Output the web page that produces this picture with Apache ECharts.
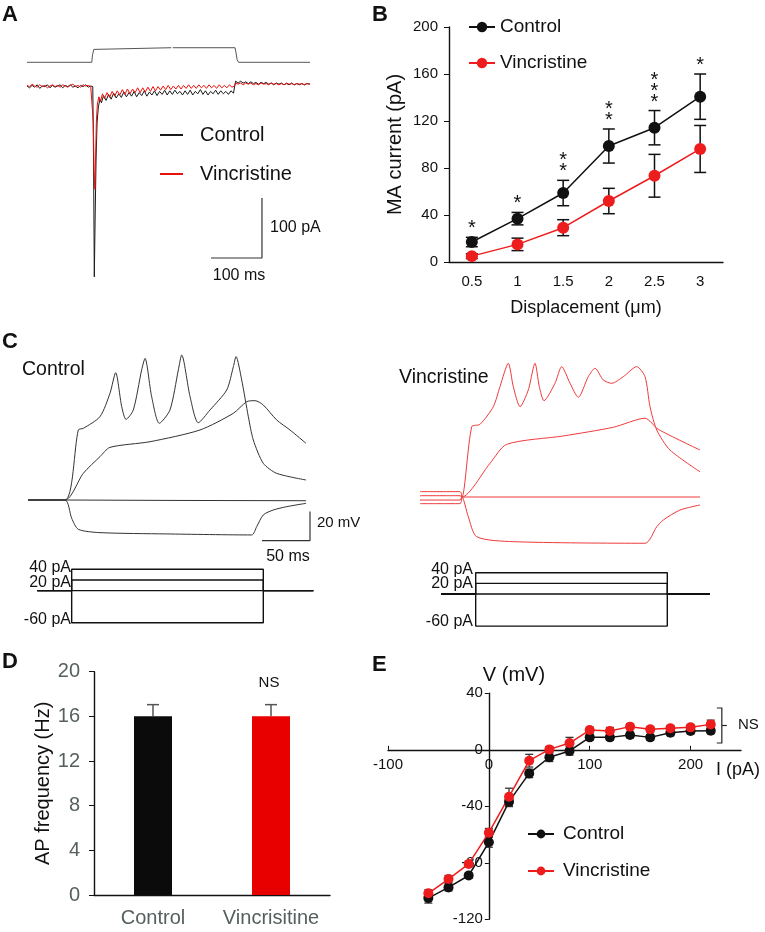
<!DOCTYPE html>
<html><head><meta charset="utf-8">
<script src="https://cdn.jsdelivr.net/npm/echarts@6.0.0/dist/echarts.min.js"></script>
<style>html,body{margin:0;padding:0;background:#fff}#c{width:765px;height:932px}</style>
</head><body><div id="c"></div>
<script>
// ---------- Panel A: MA current traces (t in ms, current in pA) ----------
const stimA = [[0,39.5],[127,39.5],[128.5,52],[131,61],[134,63.8],[283,63.8],[284,'-'],[286,63.8],[408,63.8],[410,55],[412,44],[415,39.5],[555,39.5]];
const ctrlCurrentA = [[0,0],[5,-3],[10,1],[15,-2],[20,2],[25,-4],[30,0],[35,-1],[40,2],[45,-3],[50,1],[55,-2],[60,0],[65,2],[70,-3],[75,1],[80,-1],[85,2],[90,-2],[95,0],[100,-3],[105,1],[110,-1],[115,2],[120,-2],[125,0],[129,-1],
[130.5,-120],[132,-318],[133.8,-210],[135.5,-120],[137.5,-60],[140,-35],[143,-22],[146,-28],[150,-16],[155,-24],[160,-14],[165,-22],[170,-12],[175,-20],[180,-13],[185,-19],[190,-10],[195,-18],[200,-11],[205,-17],[210,-9],[215,-18],[220,-11],[225,-16],[230,-8],[235,-17],[240,-10],[245,-15],[250,-8],[255,-16],[260,-9],[265,-14],[270,-7],[275,-15],[280,-8],[285,-14],[290,-7],[295,-13],[300,-9],[305,-15],[310,-8],[315,-14],[320,-7],[325,-15],[330,-9],[335,-13],[340,-6],[345,-14],[350,-8],[355,-15],[360,-9],[365,-13],[370,-7],[375,-14],[380,-8],[385,-13],[390,-9],[395,-14],[400,-8],[405,-12],[407.5,-10],
[409,8],[414,5],[419,8],[424,5],[429,7],[434,4],[439,7],[444,4],[449,6],[454,3],[459,6],[464,4],[469,6],[474,3],[479,5],[484,2],[489,5],[494,3],[499,5],[504,2],[509,4],[514,2],[519,5],[524,2],[529,4],[534,2],[539,4],[544,2],[549,4],[555,3]];
const vincCurrentA = [[0,1],[5,-1],[10,3],[15,0],[20,-2],[25,2],[30,-1],[35,1],[40,-3],[45,0],[50,2],[55,-1],[60,1],[65,-2],[70,2],[75,0],[80,-2],[85,1],[90,3],[95,-1],[100,1],[105,-2],[110,2],[115,0],[120,1],[125,-1],[128.5,0],
[130,-60],[131.5,-140],[133,-172],[134.5,-120],[136,-60],[138,-30],[141,-18],[144,-26],[148,-13],[152,-21],[157,-11],[162,-19],[167,-9],[172,-17],[177,-8],[182,-15],[187,-6],[192,-14],[197,-5],[202,-13],[207,-5],[212,-11],[217,-3],[222,-11],[227,-3],[232,-10],[237,-2],[242,-9],[247,-1],[252,-8],[257,-1],[262,-7],[267,0],[272,-6],[277,1],[282,-6],[287,0],[292,-5],[297,1],[302,-5],[307,1],[312,-4],[317,2],[322,-4],[327,1],[332,-4],[337,2],[342,-3],[347,1],[352,-4],[357,2],[362,-3],[367,1],[372,-4],[377,2],[382,-3],[387,1],[392,-3],[397,2],[402,-2],[407,0],
[409.5,5],[414,3],[419,5],[424,2],[429,5],[434,3],[439,5],[444,2],[449,4],[454,2],[459,5],[464,3],[469,4],[474,2],[479,5],[484,3],[489,4],[494,2],[499,4],[504,2],[509,5],[514,3],[519,4],[524,2],[529,4],[534,3],[539,4],[544,2],[549,4],[555,3]];
const scaleBarA = [[360.8,-286.7],[460.8,-286.7],[460.8,-186.7]]; // 100 ms x 100 pA

// ---------- Panel B: MA current vs displacement ----------
const bCategories = ['0.5','1','1.5','2','2.5','3'];
const bControl = [17, 36.9, 58.7, 98.7, 114.3, 140.7];
const bControlErr = [4, 5.3, 10.8, 14.5, 14.6, 19.3];
const bVinc = [5, 15, 29.2, 51.9, 73.4, 96.2];
const bVincErr = [2, 5.3, 6.8, 10.8, 18.2, 20];
const bSig = ['*','*','**','**','***','*'];

// ---------- Panel C: voltage traces (t in ms, V in mV relative to rest) ----------
const ctrlSpike = [[0,0],[38.5,0],[52.4,48.3],[57.6,49.4],[75,57.5],[85.4,73.6],[91.3,87.8],[97.6,64.4],[102.1,55.6],[109.7,62.1],[118.4,89.7],[121.9,97.7],[128.8,71.3],[136.8,52.9],[147.9,62.1],[156.6,89.7],[160.1,100],[168.8,71.3],[177.4,53.3],[189.6,62.1],[207,75.9],[213.9,91.9],[216.7,98.9],[222.6,82.8],[229.5,57.5],[234.7,41.4],[245.1,25.3],[259,18.4],[289.6,13.8]];
const ctrl20 = [[0,0],[38.5,0],[57.6,18.4],[75,29.9],[85.4,36.3],[127.1,40.2],[179.2,48.3],[213.9,59.8],[227.8,67.8],[236.5,68.5],[245.1,65.5],[259,55.2],[272.9,48.3],[289.6,39.1]];
const ctrl0 = [[0,0],[38.5,0],[150,-0.3],[289.6,-0.5]];
const ctrlNeg = [[0,0],[38.5,0],[45.5,-12.6],[52.4,-20.2],[75,-22.5],[144.5,-23.4],[233,-24.1],[238.2,-18.4],[245.1,-10.3],[255.5,-6.9],[269.5,-4.6],[289.6,-2.3]];
const vincSpike = [[0,3.7],[41.7,3.7],[43.8,0],[53.9,48.5],[62.5,50.1],[76.4,62.3],[83.3,76.1],[92,92.2],[97.2,76.1],[104.2,62.3],[112.8,73.8],[119.8,92.2],[124.3,76.1],[129.2,66.4],[140.6,78.4],[147.6,89.9],[156.3,78.4],[164.9,68.8],[175.3,83],[182.3,88.8],[190.9,80.7],[199.7,78.4],[211.8,83],[225.7,89.9],[234.4,83],[239.6,62.3],[246.6,46.2],[260.4,32.4],[291.7,17.4]];
const vinc20 = [[0,0.9],[41.7,0.9],[43.8,0],[72.9,23.2],[90.3,36.3],[149.3,42.1],[201.4,48.1],[234.4,54.3],[248.2,46.7],[291.7,32.4]];
const vinc0 = [[0,-2.1],[41.7,-2.1],[43.8,0],[291.7,0]];
const vincNeg = [[0,-4.6],[41.7,-4.6],[43.8,0],[50.3,-13.6],[59.1,-27.4],[97.2,-30.8],[234.4,-31.9],[246.6,-20.5],[253.4,-15.9],[270.8,-9],[291.7,-5.5]];
const scaleBarC = [[243.75,-28],[293.75,-28],[293.75,-8]]; // 50 ms x 20 mV
const protoLevels = [40, 20, 0, -60];           // pA
const protoLabels = ['40 pA', '20 pA', '-60 pA'];
const protoCtrlT = [9.7, 45.5, 245.1, 297.2];   // start, on, off, end (ms)
const protoVincT = [21.9, 58, 257.6, 310.1];

// ---------- Panel D: AP frequency ----------
const dCategories = ['Control', 'Vincrisitine'];
const dValues = [16, 16];
const dErr = [1.05, 1.05];

// ---------- Panel E: I-V relation ----------
const eCurrent = [-60,-40,-20,0,20,40,60,80,100,120,140,160,180,200,220];
const eControl = [-105,-97.4,-89,-65.5,-36.7,-16.7,-5.3,-0.8,8.8,8.8,10.5,8.8,12.1,13.3,13.5];
const eControlErr = [3.5,2.5,2,3.5,3.5,3,3,3,2,2,2,2,2,2,2];
const eVinc = [-101.6,-91.5,-80.8,-58.7,-33.2,-7.7,0.3,4.8,14,13.3,16.4,14.5,15.2,15.9,18];
const eVincErr = [2.5,2.5,2,3,6,4.5,2,4,2,2.5,2,2,2,2,3];
const eXTicks = ['-100','0','100','200'];
const eBracket = [[231, 4.8, 29.6]];

// ---------- build ----------
const FF = '"Liberation Sans", Arial, sans-serif';
const BLACK = '#111111', RED = '#ee1d1d', TRACE_RED = '#f03a3a';
const chart = echarts.init(document.getElementById('c'), null, {renderer:'canvas'});

// E grid geometry (x: -100..250, y: -120..40); axes cross at the origin
const EG = {left:388, top:693.3, width:353, height:226};
const eXOffset = -(EG.height * (0 - (-120)) / 160);   // move x axis up to V = 0
const eYOffset = -(EG.width * (0 - (-100)) / 350);    // move y axis right to I = 0

function hiddenX(gi, min, max){ return {type:'value', gridIndex:gi, min, max, show:false}; }
function hiddenY(gi, min, max){ return {type:'value', gridIndex:gi, min, max, show:false}; }
function trace(data, xi, color, width, smooth){
  return {type:'line', xAxisIndex:xi, yAxisIndex:xi, data, symbol:'none', showSymbol:false, clip:false,
    smooth: smooth || false, lineStyle:{color, width}, itemStyle:{color}, silent:true, z:2};
}
function protoSeries(xi, T){
  return protoLevels.map(l => trace([[T[0],0],[T[1],0],[T[1],l],[T[2],l],[T[2],0],[T[3],0]], xi, '#111', 1.4));
}
function errSeries(xi, cats, vals, errs, color, half, sig, both){
  return {type:'custom', xAxisIndex:xi, yAxisIndex:xi, z:1, silent:true,
    data: vals.map((v,i)=>[i, v, errs[i]]),
    encode:{x:0, y:1},
    renderItem:(params, api)=>{
      const x = api.value(0), v = api.value(1), e = api.value(2);
      const top = api.coord([x, v+e]);
      const bot = both ? api.coord([x, v-e]) : api.coord([x, v]);
      const st = {stroke:color, lineWidth:1.5};
      const ch = [
        {type:'line', shape:{x1:top[0], y1:top[1], x2:bot[0], y2:bot[1]}, style:st},
        {type:'line', shape:{x1:top[0]-half, y1:top[1], x2:top[0]+half, y2:top[1]}, style:st}
      ];
      if (both) ch.push({type:'line', shape:{x1:bot[0]-half, y1:bot[1], x2:bot[0]+half, y2:bot[1]}, style:st});
      if (sig) {
        const s = sig[params.dataIndex];
        ch.push({type:'text', style:{text:s.split('').join('\n'), x:top[0], y:top[1]-3, align:'center', verticalAlign:'bottom',
          fontSize:20, fontFamily:FF, lineHeight:11, fill:BLACK}});
      }
      return {type:'group', children:ch};
    }};
}
function errXY(xi, xs, vals, errs, color, half){
  return {type:'custom', xAxisIndex:xi, yAxisIndex:xi, z:1, silent:true,
    data: vals.map((v,i)=>[xs[i], v, errs[i]]),
    encode:{x:0, y:1},
    renderItem:(params, api)=>{
      const x = api.value(0), v = api.value(1), e = api.value(2);
      const top = api.coord([x, v+e]), bot = api.coord([x, v-e]);
      const st = {stroke:color, lineWidth:1.3};
      return {type:'group', children:[
        {type:'line', shape:{x1:top[0], y1:top[1], x2:bot[0], y2:bot[1]}, style:st},
        {type:'line', shape:{x1:top[0]-half, y1:top[1], x2:top[0]+half, y2:top[1]}, style:st},
        {type:'line', shape:{x1:bot[0]-half, y1:bot[1], x2:bot[0]+half, y2:bot[1]}, style:st}
      ]};
    }};
}
function txt(x, y, text, size, extra){
  return {type:'text', x, y, silent:true, style:Object.assign({text, fontSize:size, fontFamily:FF, fill:BLACK, align:'left', verticalAlign:'middle'}, (extra||{}))};
}
const axisLineStyle = {lineStyle:{color:BLACK, width:1.4}};

const option = {
  animation:false,
  backgroundColor:'#ffffff',
  textStyle:{fontFamily:FF},
  grid:[
    {left:27, top:40, width:283, height:250},          // 0 A
    {left:449, top:27, width:274, height:235},         // 1 B
    {left:28, top:355, width:288, height:203},         // 2 C control
    {left:420, top:352, width:288, height:203},        // 3 C vincristine
    {left:28, top:558.6, width:288, height:74.8},      // 4 protocol control
    {left:420, top:562, width:288, height:74.8},       // 5 protocol vinc
    {left:94, top:671.7, width:236, height:223.3},     // 6 D
    EG                                                 // 7 E
  ],
  xAxis:[
    hiddenX(0, 0, 555),
    {type:'category', gridIndex:1, data:bCategories, boundaryGap:true, axisTick:{show:false}, axisLine:axisLineStyle,
      axisLabel:{fontSize:15, color:BLACK, margin:12}, name:'Displacement (μm)', nameLocation:'middle', nameGap:37,
      nameTextStyle:{fontSize:18, color:BLACK}},
    hiddenX(2, 0, 300), hiddenX(3, 0, 300), hiddenX(4, 0, 300), hiddenX(5, 0, 300),
    {type:'category', gridIndex:6, data:dCategories, axisTick:{show:false}, axisLine:axisLineStyle,
      axisLabel:{fontSize:20, color:'#56605f', margin:13, interval:0}},
    {type:'value', gridIndex:7, position:'bottom', offset:eXOffset, min:-100, max:250, interval:100, splitLine:{show:false},
      axisLine:{onZero:false, lineStyle:{color:BLACK, width:1.4}}, axisTick:{show:true, inside:true, length:4, lineStyle:{color:BLACK}},
      axisLabel:{fontSize:15, color:BLACK, margin:8, showMaxLabel:false,
        formatter:v=> (eXTicks.indexOf(String(v))>=0 ? String(v) : '')},
      name:'I (pA)', nameLocation:'end', nameGap:-25,
      nameTextStyle:{fontSize:18, color:BLACK, align:'left', verticalAlign:'top', padding:[11,0,0,0]}}
  ],
  yAxis:[
    hiddenY(0, -340, 76.67),
    {type:'value', gridIndex:1, min:0, max:200, interval:40, splitLine:{show:false}, axisLine:{show:true, lineStyle:{color:BLACK, width:1.4}},
      axisTick:{show:true, length:5, lineStyle:{color:BLACK}}, axisLabel:{fontSize:15, color:BLACK, margin:11},
      name:'MA current (pA)', nameLocation:'middle', nameGap:44, nameTextStyle:{fontSize:20, color:BLACK}},
    hiddenY(2, -40, 100), hiddenY(3, -40, 100), hiddenY(4, -80, 60), hiddenY(5, -80, 60),
    {type:'value', gridIndex:6, min:0, max:20, interval:4, splitLine:{show:false}, axisLine:{show:true, lineStyle:{color:BLACK, width:1.4}},
      axisTick:{show:true, length:5, lineStyle:{color:BLACK}}, axisLabel:{fontSize:20, color:'#56605f', margin:14},
      name:'AP frequency (Hz)', nameLocation:'middle', nameGap:38, nameTextStyle:{fontSize:20, color:BLACK}},
    {type:'value', gridIndex:7, position:'left', offset:eYOffset, min:-120, max:40, interval:40, splitLine:{show:false},
      axisLine:{show:true, onZero:false, lineStyle:{color:BLACK, width:1.4}}, axisTick:{show:true, length:4, lineStyle:{color:BLACK}},
      axisLabel:{fontSize:15, color:BLACK, margin:6},
      name:'V (mV)', nameLocation:'end', nameGap:2, nameTextStyle:{fontSize:20, color:BLACK, align:'left', padding:[0,0,0,-6]}}
  ],
  legend:[
    {data:[{name:'A|Control', icon:'rect'},{name:'A|Vincristine', icon:'rect'}], orient:'vertical', left:160, top:124, padding:0,
      itemWidth:23, itemHeight:2, itemGap:17, formatter:n=>n.split('|')[1],
      textStyle:{fontSize:20, color:BLACK, lineHeight:22, padding:[0,0,0,12]}, selectedMode:false},
    {data:['B|Control','B|Vincristine'], orient:'vertical', left:468, top:17, padding:0, itemWidth:26, itemHeight:13, itemGap:16,
      formatter:n=>n.split('|')[1], textStyle:{fontSize:19, color:BLACK, lineHeight:20}, selectedMode:false},
    {data:['E|Control','E|Vincristine'], orient:'vertical', left:527, top:823, padding:0, itemWidth:26, itemHeight:11, itemGap:15,
      formatter:n=>n.split('|')[1], textStyle:{fontSize:19, color:BLACK, lineHeight:22, padding:[0,0,0,4]}, selectedMode:false}
  ],
  series:[
    // A
    trace(stimA, 0, '#555555', 1),
    Object.assign(trace(ctrlCurrentA, 0, '#1a1a1a', 1), {name:'A|Control'}),
    Object.assign(trace(vincCurrentA, 0, '#e8120c', 1), {name:'A|Vincristine'}),
    trace(scaleBarA, 0, '#333333', 1.2),
    // B
    errSeries(1, bCategories, bControl, bControlErr, BLACK, 6, bSig, true),
    errSeries(1, bCategories, bVinc, bVincErr, BLACK, 6, null, true),
    {type:'line', name:'B|Control', xAxisIndex:1, yAxisIndex:1, data:bControl, symbol:'circle', symbolSize:12,
      lineStyle:{color:BLACK, width:1.5}, itemStyle:{color:BLACK}, z:3, silent:true},
    {type:'line', name:'B|Vincristine', xAxisIndex:1, yAxisIndex:1, data:bVinc, symbol:'circle', symbolSize:12,
      lineStyle:{color:RED, width:1.5}, itemStyle:{color:RED}, z:3, silent:true},
    // C
    trace(ctrlSpike, 2, '#333333', 1, 0.25), trace(ctrl20, 2, '#333333', 1, 0.25),
    trace(ctrl0, 2, '#333333', 1), trace(ctrlNeg, 2, '#333333', 1, 0.25),
    trace(scaleBarC, 2, '#333333', 1.2),
    trace(vincSpike, 3, TRACE_RED, 1, 0.25), trace(vinc20, 3, TRACE_RED, 1, 0.25),
    trace(vinc0, 3, TRACE_RED, 1), trace(vincNeg, 3, TRACE_RED, 1, 0.25),
    ...protoSeries(4, protoCtrlT), ...protoSeries(5, protoVincT),
    // D
    {type:'bar', xAxisIndex:6, yAxisIndex:6, barWidth:38, silent:true, z:2,
      data:dValues.map((v,i)=>({value:v, itemStyle:{color: i===0 ? '#0b0b0b' : '#e80000'}}))},
    Object.assign(errSeries(6, dCategories, dValues, dErr, '#555555', 6, null, false), {z:1}),
    // E
    errXY(7, eCurrent, eControl, eControlErr, '#333333', 4),
    errXY(7, eCurrent, eVinc, eVincErr, '#333333', 4),
    {type:'line', name:'E|Control', xAxisIndex:7, yAxisIndex:7, data:eCurrent.map((x,i)=>[x, eControl[i]]), symbol:'circle', symbolSize:10,
      lineStyle:{color:BLACK, width:1.5}, itemStyle:{color:BLACK}, z:3, silent:true},
    {type:'line', name:'E|Vincristine', xAxisIndex:7, yAxisIndex:7, data:eCurrent.map((x,i)=>[x, eVinc[i]]), symbol:'circle', symbolSize:10,
      lineStyle:{color:RED, width:1.5}, itemStyle:{color:RED}, z:3, silent:true},
    {type:'custom', xAxisIndex:7, yAxisIndex:7, data:eBracket, silent:true, encode:{x:0, y:1},
      renderItem:(params, api)=>{
        const a = api.coord([api.value(0), api.value(1)]), b = api.coord([api.value(0), api.value(2)]);
        const mid = (a[1]+b[1])/2, st = {stroke:'#222', lineWidth:1.2, fill:null};
        return {type:'group', children:[
          {type:'polyline', shape:{points:[[a[0]-5,a[1]],[a[0],a[1]],[b[0],b[1]],[b[0]-5,b[1]]]}, style:st},
          {type:'line', shape:{x1:a[0], y1:mid, x2:a[0]+5, y2:mid}, style:st}
        ]};
      }}
  ],
  graphic:[
    txt(2, 15, 'A', 22, {fontWeight:'bold'}),
    txt(372, 15, 'B', 22, {fontWeight:'bold'}),
    txt(2, 341.5, 'C', 22, {fontWeight:'bold'}),
    txt(2, 661.5, 'D', 22, {fontWeight:'bold'}),
    txt(372, 665, 'E', 22, {fontWeight:'bold'}),
    txt(270, 228, '100 pA', 16),
    txt(239, 276, '100 ms', 16, {align:'center'}),
    txt(22, 370, 'Control', 19.5),
    txt(399, 377.5, 'Vincristine', 19.5),
    txt(317, 522.5, '20 mV', 15),
    txt(288, 556.7, '50 ms', 16, {align:'center'}),
    txt(71, 568, protoLabels[0], 16, {align:'right'}),
    txt(71, 583, protoLabels[1], 16, {align:'right'}),
    txt(71, 620, protoLabels[2], 16, {align:'right'}),
    txt(473, 570, protoLabels[0], 16, {align:'right'}),
    txt(473, 584, protoLabels[1], 16, {align:'right'}),
    txt(473, 621.7, protoLabels[2], 16, {align:'right'}),
    txt(269, 683, 'NS', 15, {align:'center'}),
    txt(738, 725, 'NS', 15)
  ]
};
chart.setOption(option);
</script></body></html>
